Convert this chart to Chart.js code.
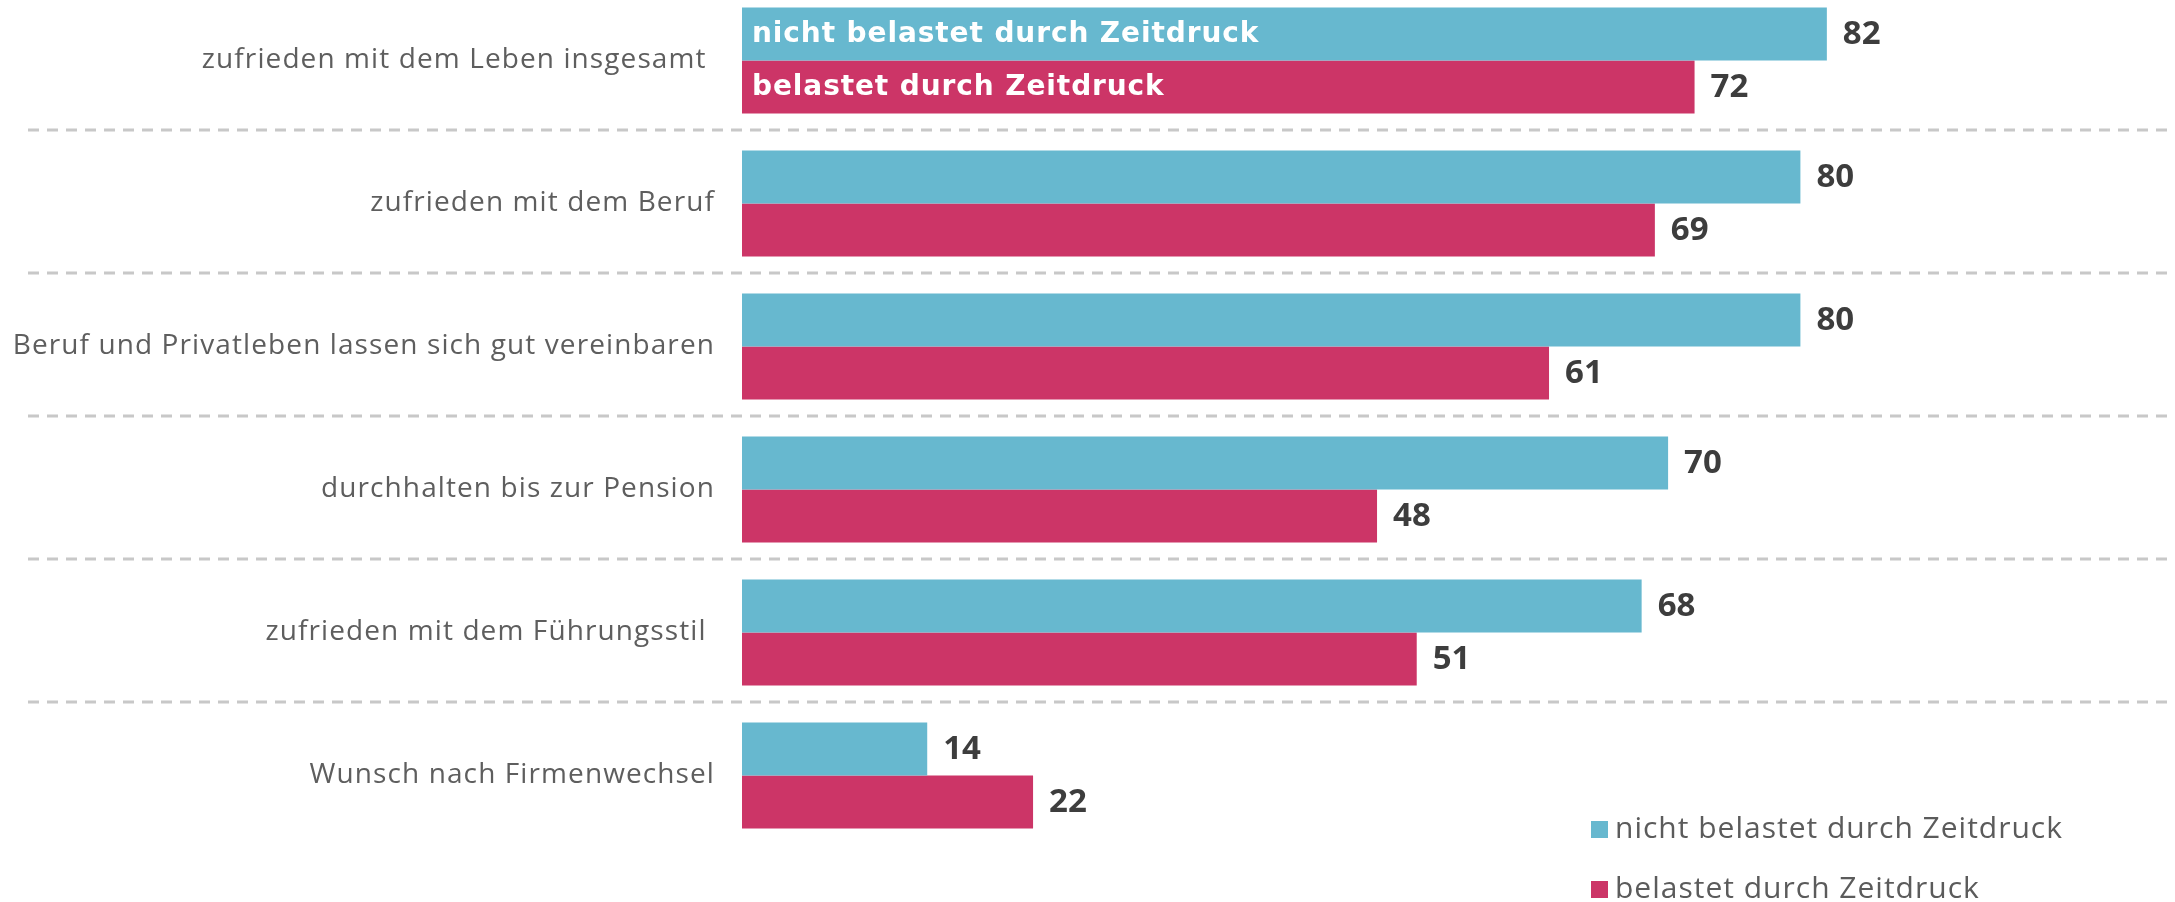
<!DOCTYPE html>
<html><head><meta charset="utf-8">
<script src="https://cdn.jsdelivr.net/npm/chart.js@4.4.1/dist/chart.umd.min.js"></script>
<style>
html,body{margin:0;padding:0;background:#fff;overflow:hidden;}
#wrap{position:absolute;left:0;top:-11px;width:2175px;height:915px;}
</style></head><body>
<div id="wrap"><canvas id="c"></canvas></div>
<script>
const categories = ["zufrieden mit dem Leben insgesamt ", "zufrieden mit dem Beruf", "Beruf und Privatleben lassen sich gut vereinbaren", "durchhalten bis zur Pension", "zufrieden mit dem Führungsstil ", "Wunsch nach Firmenwechsel"];
const seriesNames = ["nicht belastet durch Zeitdruck", "belastet durch Zeitdruck"];
const notStressed = [82, 80, 80, 70, 68, 14];
const stressed = [72, 69, 61, 48, 51, 22];
const seriesColors = ["#67B8CF", "#CC3567"];
const xMin = 0, xMax = 100;

const FONT = "'Open Sans', 'DejaVu Sans', sans-serif";
const BOLD = "'DejaVu Sans', 'Open Sans', sans-serif";

const spacing = {
  id: 'spacing',
  beforeDraw(chart) { chart.ctx.letterSpacing = '1.1px'; }
};

const separators = {
  id: 'separators',
  beforeDatasetsDraw(chart) {
    const ctx = chart.ctx, y = chart.scales.y;
    ctx.save();
    ctx.strokeStyle = '#c8c8c8';
    ctx.lineWidth = 3;
    ctx.setLineDash([11, 8]);
    for (let i = 0; i < categories.length - 1; i++) {
      const py = (y.getPixelForValue(i) + y.getPixelForValue(i + 1)) / 2 - 2;
      ctx.beginPath();
      ctx.moveTo(28, py);
      ctx.lineTo(chart.width, py);
      ctx.stroke();
    }
    ctx.restore();
  }
};

const labelsPlugin = {
  id: 'valueLabels',
  afterDatasetsDraw(chart) {
    const ctx = chart.ctx;
    ctx.save();
    ctx.textBaseline = 'middle';
    chart.data.datasets.forEach((ds, di) => {
      const meta = chart.getDatasetMeta(di);
      meta.data.forEach((bar, i) => {
        ctx.textAlign = 'left';
        ctx.letterSpacing = '0px';
        ctx.fillStyle = '#3d3d3d';
        ctx.font = "bold 33px " + FONT;
        ctx.fillText(String(ds.data[i]), bar.x + 16, bar.y + 1);
        if (i === 0) {
          ctx.fillStyle = '#ffffff';
          ctx.letterSpacing = '0.9px';
          ctx.font = "bold 28px " + BOLD;
          ctx.fillText(ds.label, bar.base + 10, bar.y + 1);
        }
      });
    });
    ctx.restore();
  }
};

const legendPlugin = {
  id: 'customLegend',
  afterDraw(chart) {
    const ctx = chart.ctx;
    ctx.save();
    ctx.textBaseline = 'middle';
    ctx.textAlign = 'left';
    ctx.letterSpacing = '1px';
    ctx.font = "30px " + FONT;
    chart.data.datasets.forEach((ds, di) => {
      const cy = 840 + di * 60;
      ctx.fillStyle = ds.backgroundColor;
      ctx.fillRect(1591, cy - 8, 17, 17);
      ctx.fillStyle = '#5b5b5b';
      ctx.fillText(ds.label, 1615, cy);
    });
    ctx.restore();
  }
};

new Chart(document.getElementById('c'), {
  type: 'bar',
  data: {
    labels: categories,
    datasets: [
      { label: seriesNames[0], data: notStressed, backgroundColor: seriesColors[0], categoryPercentage: 0.741, barPercentage: 1.0 },
      { label: seriesNames[1], data: stressed, backgroundColor: seriesColors[1], categoryPercentage: 0.741, barPercentage: 1.0 }
    ]
  },
  options: {
    indexAxis: 'y',
    responsive: true,
    maintainAspectRatio: false,
    animation: false,
    layout: { padding: { left: 0, right: 110, top: 0, bottom: 57 } },
    plugins: { legend: { display: false }, tooltip: { enabled: false } },
    scales: {
      x: { display: false, min: xMin, max: xMax },
      y: {
        grid: { display: false, drawTicks: false },
        border: { display: false },
        afterFit(scale) { scale.width = 742; scale.paddingTop = 0; scale.paddingBottom = 0; },
        ticks: {
          padding: 27,
          color: '#5e5e5e',
          font: { family: FONT, size: 28, weight: 400 }
        }
      }
    }
  },
  plugins: [spacing, separators, labelsPlugin, legendPlugin]
});
</script>
</body></html>
